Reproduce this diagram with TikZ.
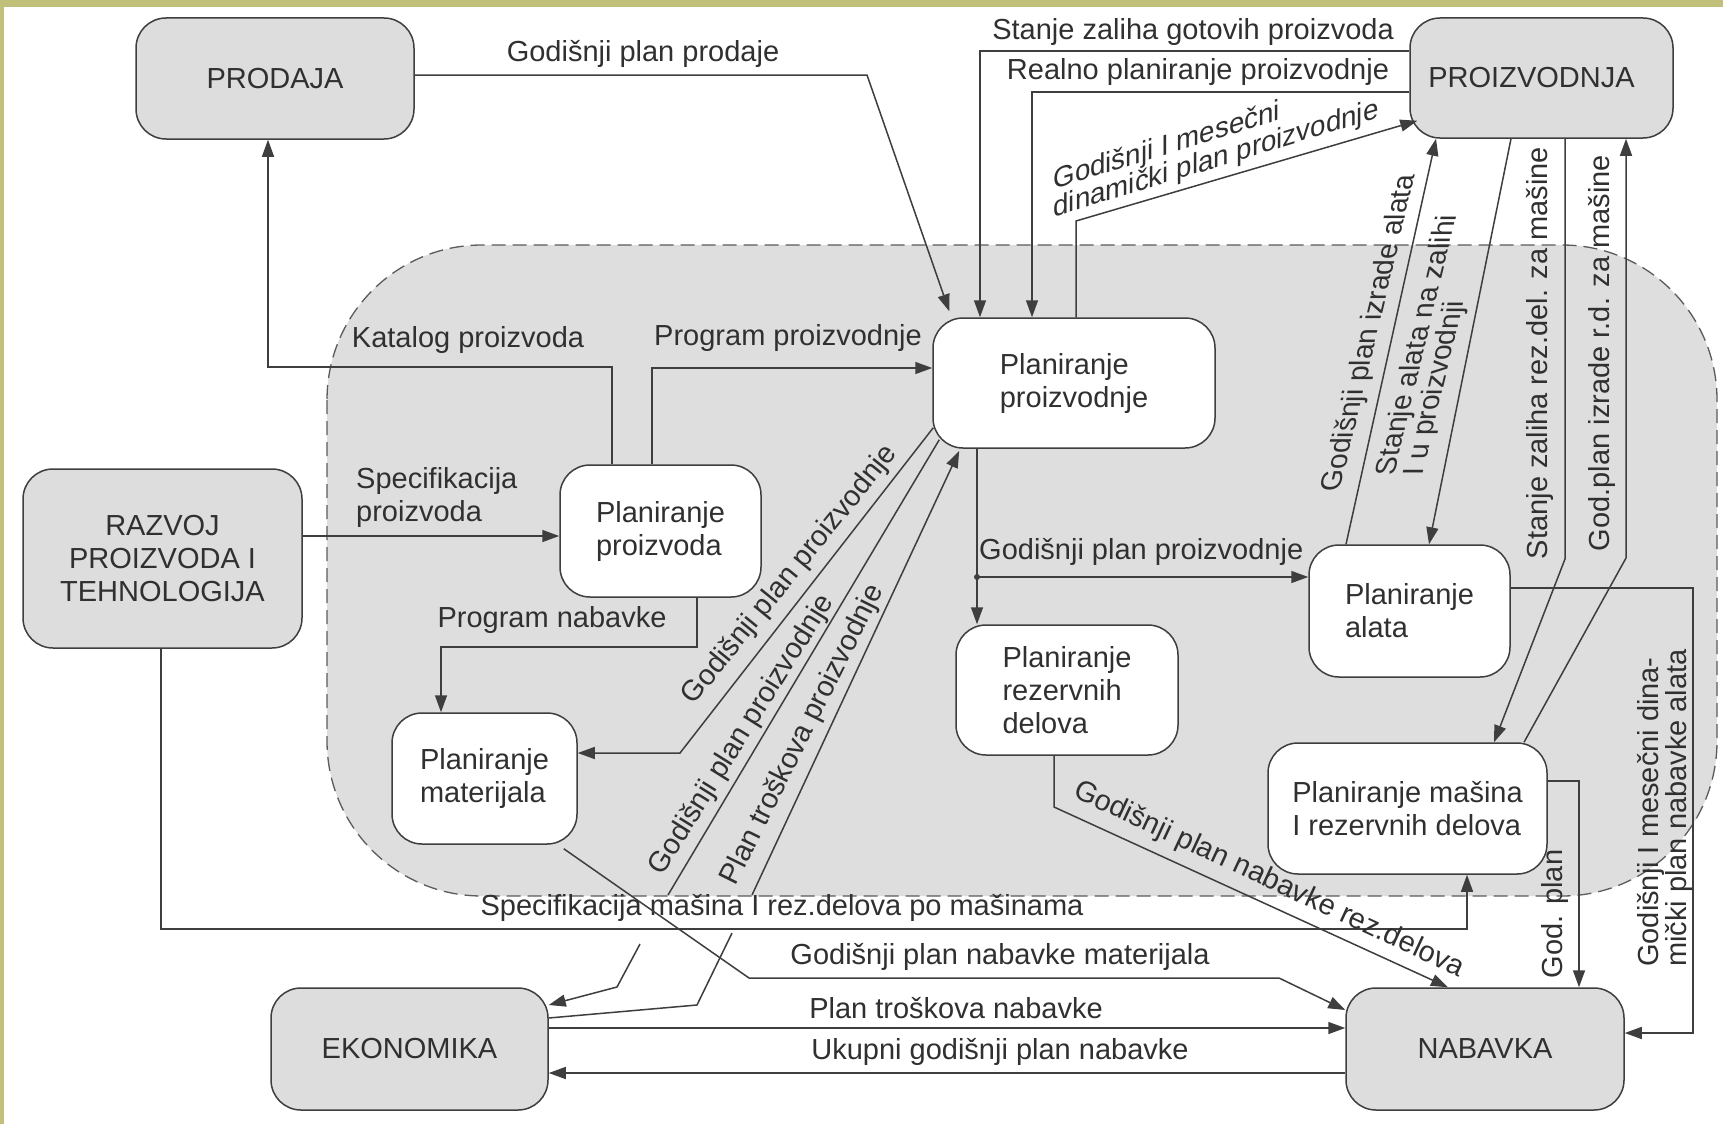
\documentclass[tikz,border=0pt]{standalone}
\usepackage{fontspec}
\setmainfont{Liberation Sans}
\usetikzlibrary{arrows.meta,calc}

\definecolor{framecol}{RGB}{193,192,122}
\definecolor{ink}{RGB}{62,62,62}
\definecolor{txt}{RGB}{48,48,48}
\definecolor{boxgray}{RGB}{221,221,221}
\definecolor{zonegray}{RGB}{222,222,222}

\begin{document}
\begin{tikzpicture}[x=1pt,y=-1pt,
  font=\fontsize{29}{33}\selectfont,
  every node/.style={text=txt},
  outerbox/.style={draw=ink, line width=1.5pt, fill=boxgray, rounded corners=30pt,
    align=center, inner sep=0pt},
  innerbox/.style={draw=ink, line width=1.5pt, fill=white, rounded corners=30pt,
    align=left, inner sep=0pt},
  flow/.style={draw=ink, line width=1.5pt},
  arr/.style={flow, -{Triangle[length=17pt,width=12pt]}},
  lbl/.style={inner sep=0pt},
  twoline/.style={lbl, align=left, font=\fontsize{29}{27}\selectfont},
]
% page and frame
\useasboundingbox (0,0) rectangle (1723,1124);
\fill[white] (0,0) rectangle (1723,1124);
\fill[framecol] (0,0) rectangle (1723,7);
\fill[framecol] (0,0) rectangle (4,1124);

% planning zone
\path[fill=zonegray, draw=ink!85, dash pattern=on 14pt off 7pt, line width=1.3pt,
  rounded corners=155pt] (327,245) rectangle (1717,896);

% outer departments
\node[outerbox, minimum width=278pt, minimum height=121pt] (prodaja) at (275,78.5) {PRODAJA};
\node[outerbox, minimum width=263pt, minimum height=120pt] (proizvodnja) at (1541.5,78) {PROIZVODNJA\hspace*{20pt}};
\node[outerbox, minimum width=279pt, minimum height=179pt] (razvoj) at (162.5,558.5) {RAZVOJ\\PROIZVODA I\\TEHNOLOGIJA};
\node[outerbox, minimum width=277pt, minimum height=122pt] (ekonomika) at (409.5,1049) {EKONOMIKA};
\node[outerbox, minimum width=278pt, minimum height=122pt] (nabavka) at (1485,1049) {NABAVKA};

% planning activities
\node[innerbox, minimum width=282pt, minimum height=130pt] (pproiz) at (1074,383) {Planiranje\\proizvodnje};
\node[innerbox, minimum width=201pt, minimum height=132pt] (pprod) at (660.5,531) {Planiranje\\proizvoda};
\node[innerbox, minimum width=185pt, minimum height=131pt] (pmat) at (484.5,778.5) {Planiranje\\materijala};
\node[innerbox, minimum width=222pt, minimum height=130pt] (prez) at (1067,690) {Planiranje\\rezervnih\\delova};
\node[innerbox, minimum width=201pt, minimum height=132pt] (palat) at (1409.5,611) {Planiranje\\alata};
\node[innerbox, minimum width=279pt, minimum height=131pt] (pmas) at (1407.5,808.5) {Planiranje mašina\\I rezervnih delova};

% flows around Planiranje proizvodnje
\draw[arr] (prodaja.east |- 0,75) -- (867,75) -- ($(pproiz.north west)+(17,-6)$);
\node[lbl] at (643,54) {Godišnji plan prodaje};

\draw[arr] (proizvodnja.west |- 0,51) -| (pproiz.north -| 980,0);
\node[lbl] at (1193,32) {Stanje zaliha gotovih proizvoda};

\draw[arr] (proizvodnja.west |- 0,92) -| (pproiz.north -| 1032,0);
\node[lbl] at (1198,72) {Realno planiranje proizvodnje};

\draw[arr] (pproiz.north -| 1076,0) -- (1076,221) -- ($(proizvodnja.south west)+(8,-18)$);
\node[twoline, cm={0.956,0.292,0,1,(0,0)}] at (1216,146) {Godišnji I mesečni\\dinamički plan proizvodnje};

\draw[arr] (pprod.north -| 612,0) -- (612,367) -| (prodaja.south -| 268,0);
\node[lbl] at (468,340) {Katalog proizvoda};

\draw[arr] (pprod.north -| 652,0) |- (pproiz.west |- 0,368);
\node[lbl] at (788,338) {Program proizvodnje};

\draw[arr] (razvoj.east |- 0,536) -- (pprod.west |- 0,536);
\node[lbl, align=left, anchor=west, font=\fontsize{29}{33}\selectfont] at (356,497) {Specifikacija\\proizvoda};

\draw[arr] (pprod.south -| 697,0) -- (697,647) -| (pmat.north -| 441,0);
\node[lbl] at (552,620) {Program nabavke};

% diagonal flows from Planiranje proizvodnje
\draw[arr] ($(pproiz.south west)+(1,-21)$) -- (680,753) -- (pmat.east |- 0,753);
\node[lbl, rotate=51] at (790,575) {Godišnji plan proizvodnje};

\coordinate (brkB) at (668,895);
\coordinate (resB) at (640,944);
\draw[flow] ($(pproiz.south west)+(7,-9)$) -- (brkB);
\draw[arr] (resB) -- (617,987) -- (ekonomika.east |- 0,1005);
\node[lbl, rotate=58] at (742,735) {Godišnji plan proizvodnje};

\coordinate (brkC) at (752,895);
\coordinate (resC) at (732,933);
\draw[flow] (ekonomika.east |- 0,1018) -- (697,1005) -- (resC);
\draw[arr] (brkC) -- ($(pproiz.south west)+(27,2)$);
\node[lbl, rotate=63.5] at (803,735) {Plan troškova proizvodnje};

% Planiranje proizvodnje to spare parts and tools
\draw[arr] (pproiz.south -| 977,0) -- (prez.north -| 977,0);
\coordinate (split) at (977,577);
\fill[ink] (split) circle (3pt);
\draw[arr] (split) -- (palat.west |- split);
\node[lbl, anchor=west] at (979,552) {Godišnji plan proizvodnje};

% tools and machines with production
\draw[arr] (palat.north -| 1346,0) -- (proizvodnja.south -| 1436,0);
\node[lbl, cm={0.231,0.973,-1,0,(0,0)}] at (1370,333) {Godišnji plan izrade alata};

\draw[arr] (proizvodnja.south -| 1511,0) -- (palat.north -| 1429,0);
\node[twoline, cm={0.233,0.972,-1,0,(0,0)}] at (1432,345) {Stanje alata na zalihi\\I u proizvodnji};

\draw[arr] (proizvodnja.south -| 1565,0) -- (1565,559) -- (pmas.north -| 1494,0);
\node[lbl, rotate=90] at (1540,353) {Stanje zaliha rez.del. za mašine};

\draw[arr] (pmas.north -| 1524,0) -- (1626,558) -- (proizvodnja.south -| 1626,0);
\node[lbl, rotate=90] at (1602,353) {God.plan izrade r.d. za mašine};

% flows into Nabavka
\draw[arr] (palat.east |- 0,588) -- (1693,588) |- (nabavka.east |- 0,1033);
\node[twoline, rotate=90] at (1665,808) {Godišnji I mesečni dina-\\mički plan nabavke alata};

\draw[arr] (pmas.east |- 0,781) -| (nabavka.north -| 1579,0);
\node[lbl, rotate=90] at (1555,914) {God. plan};

\draw[arr] (razvoj.south -| 161,0) |- (1467,929) -- (pmas.south -| 1467,0);
\node[lbl] at (782,908) {Specifikacija mašina I rez.delova po mašinama};

\draw[arr] ($(pmat.south east)+(-14,4)$) -- (749,978) -- (1279,978) -- (nabavka.west |- 0,1010);
\node[lbl] at (1000,957) {Godišnji plan nabavke materijala};

\draw[arr] (prez.south -| 1054,0) -- (1054,807) -- (nabavka.north -| 1448,0);
\node[lbl, rotate=-25] at (1269,880) {Godišnji plan nabavke rez.delova};

% Ekonomika and Nabavka
\draw[arr] (ekonomika.east |- 0,1028) -- (nabavka.west |- 0,1028);
\node[lbl] at (956,1008) {Plan troškova nabavke};

\draw[arr] (nabavka.west |- 0,1073) -- (ekonomika.east |- 0,1073);
\node[lbl] at (1000,1052) {Ukupni godišnji plan nabavke};
\end{tikzpicture}
\end{document}
